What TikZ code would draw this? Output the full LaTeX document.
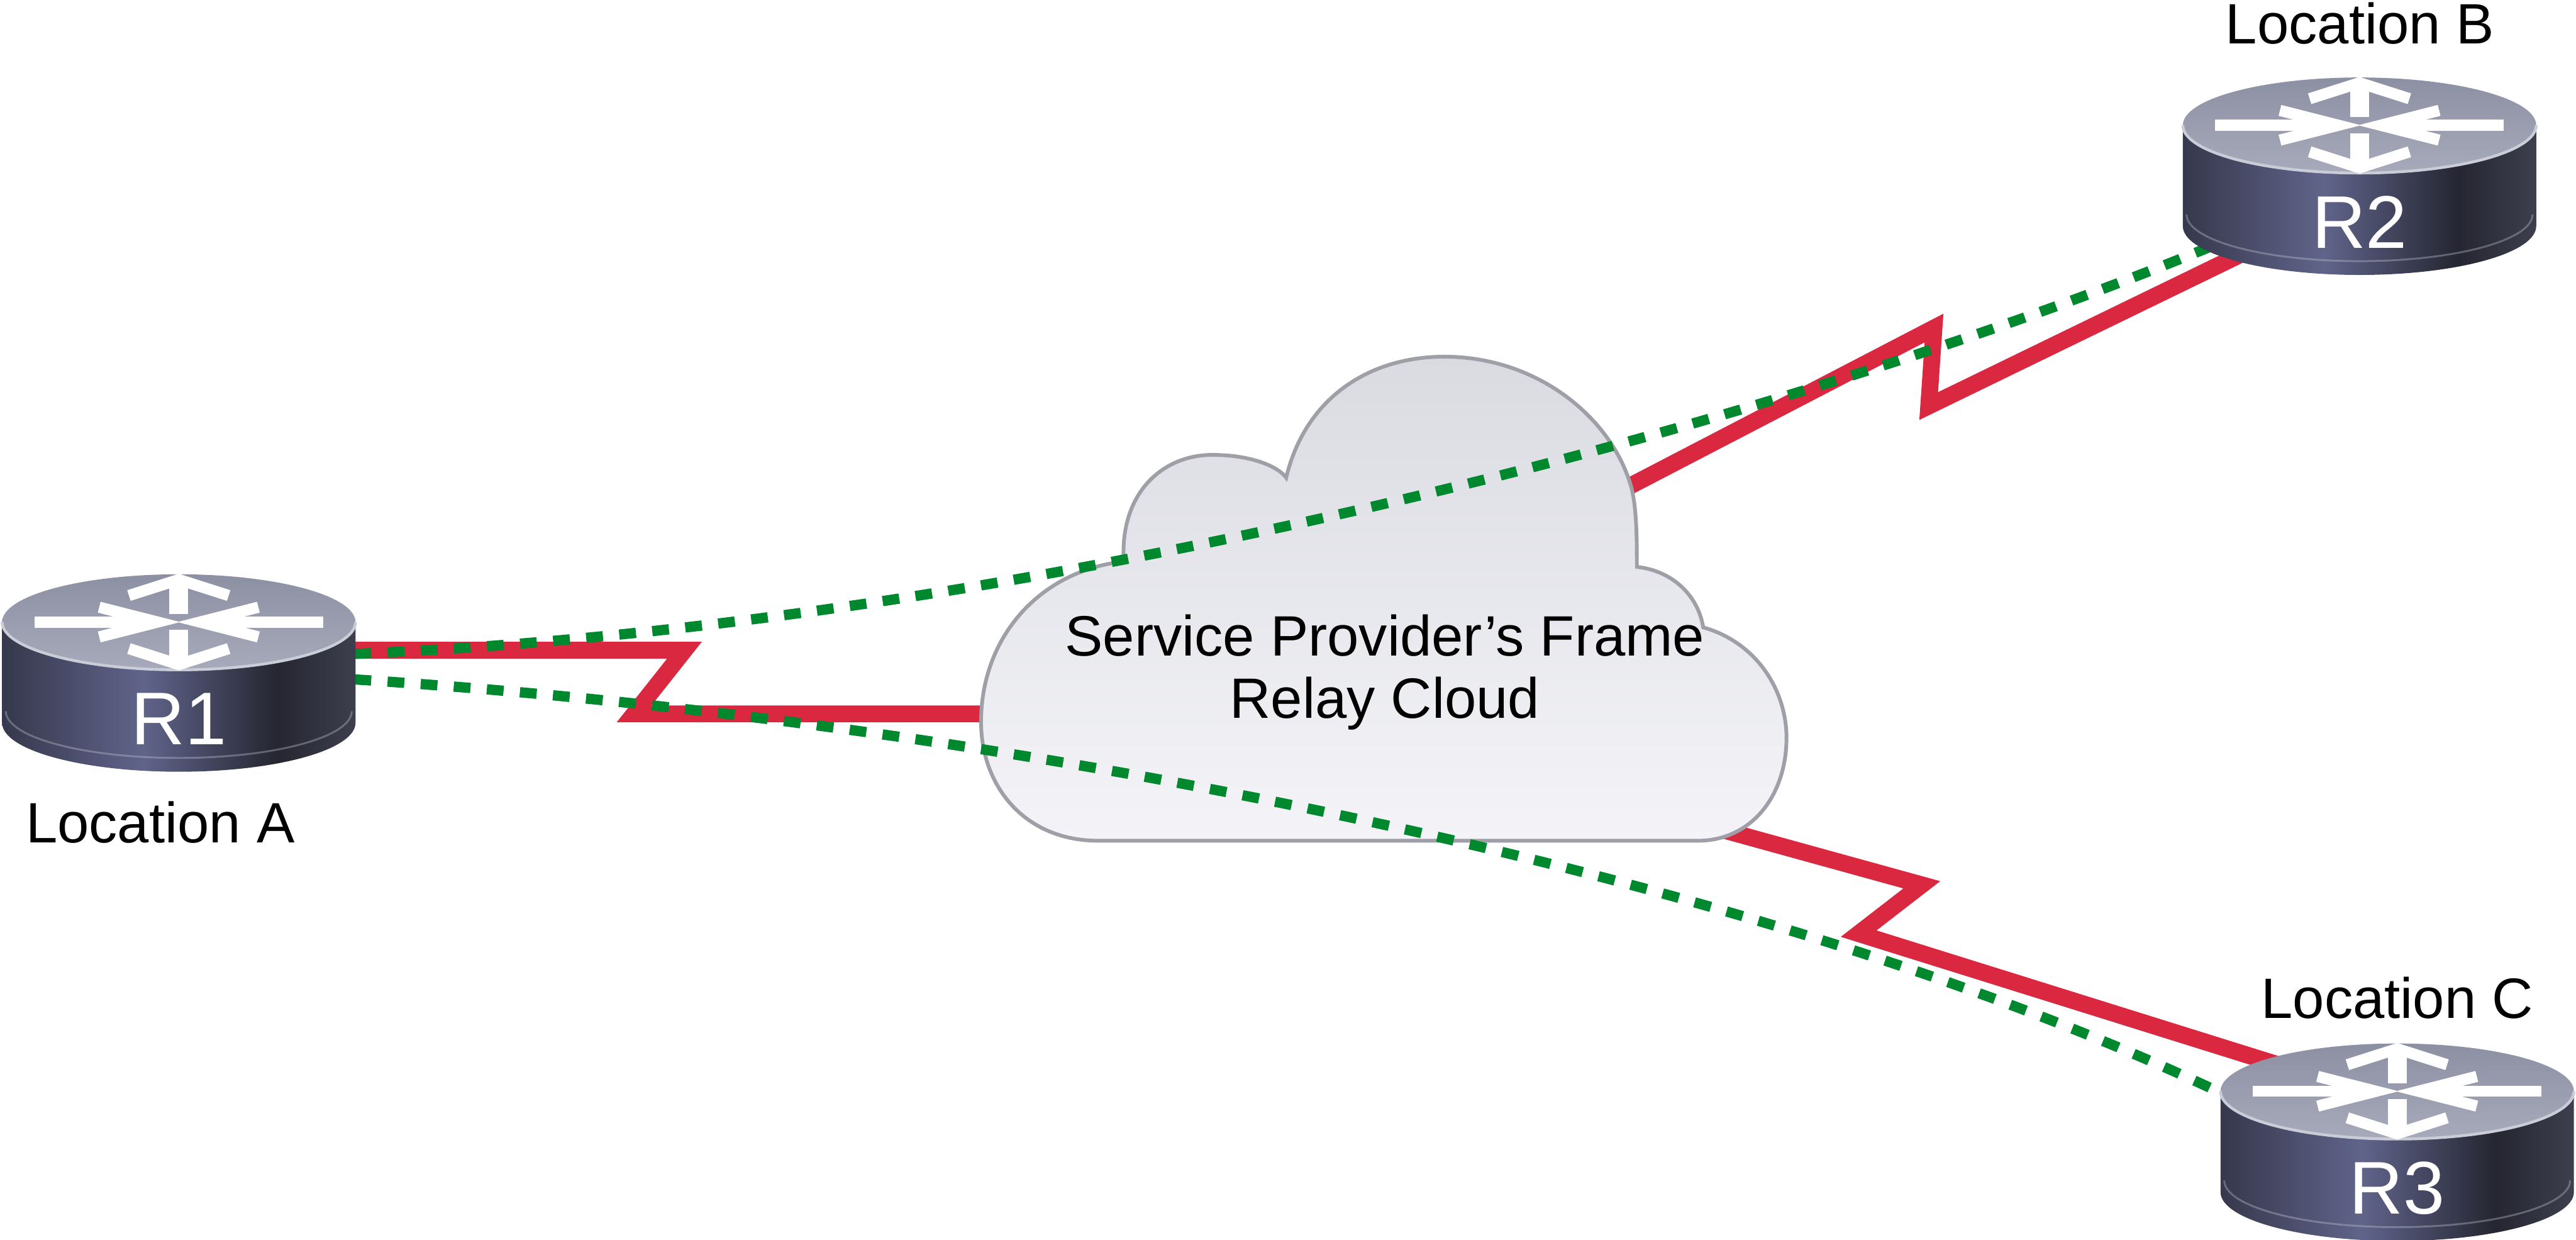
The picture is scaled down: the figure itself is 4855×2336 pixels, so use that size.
\documentclass[tikz,border=0pt]{standalone}
\usepackage{fontspec}
\setmainfont{Liberation Sans}
\usetikzlibrary{calc}
\definecolor{linkred}{RGB}{218,40,64}
\definecolor{pvcgreen}{RGB}{0,136,46}
\definecolor{rtop}{RGB}{140,144,163}
\definecolor{rtopfront}{RGB}{166,170,186}
\definecolor{rrim}{RGB}{202,205,216}
\definecolor{rb0}{RGB}{54,56,76}
\definecolor{rb1}{RGB}{96,100,138}
\definecolor{rb2}{RGB}{37,38,49}
\definecolor{rb3}{RGB}{62,63,78}
\definecolor{cloudtop}{RGB}{218,219,225}
\definecolor{cloudbot}{RGB}{244,244,248}
\definecolor{cloudline}{RGB}{158,159,167}
\pgfdeclarehorizontalshading{routerbody}{100bp}{color(0bp)=(rb0); color(25bp)=(rb0); color(45bp)=(rb1); color(64bp)=(rb2); color(75bp)=(rb3); color(100bp)=(rb3)}
\pgfdeclarelayer{edgelayer}
\pgfdeclarelayer{nodelayer}
\pgfsetlayers{edgelayer,nodelayer,main}

\tikzset{
  serial/.style={draw=linkred,line width=9pt,line join=miter},
  pvc/.style={draw=pvcgreen,line width=5.5pt,dash pattern=on 9pt off 8.8pt},
  site/.style={anchor=base,font=\fontsize{30.5}{36}\selectfont},
  rname/.style={text=white,font=\fontsize{40}{44}\selectfont},
  cloudtext/.style={align=center,font=\fontsize{30.5}{33.3}\selectfont},
  pics/router/.style={code={
    \shade[shading=routerbody] (-333,0) -- (-333,190) arc[start angle=180,end angle=0,x radius=333,y radius=92] -- (333,0) -- cycle;
    \draw[rrim,opacity=.35,line width=1pt] (-326,168) arc[start angle=180,end angle=0,x radius=326,y radius=88];
    \shade[top color=rtop,bottom color=rtopfront] (0,0) ellipse[x radius=333,y radius=90];
    \draw[rrim,line width=1.5pt] (-333,0) arc[start angle=180,end angle=0,x radius=333,y radius=90];
    \draw[white,line width=6pt] (-272,0) -- (-50,0) (272,0) -- (50,0);
    \draw[white,line width=6pt,line join=miter] (-150,-28) -- (-40,0) -- (-150,28) (150,-28) -- (40,0) -- (150,28);
    \draw[white,line width=10pt] (0,-15) -- (0,-72) (0,15) -- (0,72);
    \draw[white,line width=6pt,line join=miter] (-94,-50) -- (0,-80) -- (94,-50) (-94,50) -- (0,80) -- (94,50);
    \node[rname] (#1) at (0,183) {#1};
  }}
}

\begin{document}
\begin{tikzpicture}[x=0.1mm,y=-0.1mm]
\useasboundingbox (0,0) rectangle (4855,2336);

\pic at (337,1172) {router=R1};
\pic at (4447,236) {router=R2};
\pic at (4518,2056) {router=R3};

\node[site] (locA) at (302,1588) {Location A};
\node[site] (locB) at (4448,82) {Location B};
\node[site] (locC) at (4518,1918) {Location C};

\begin{pgfonlayer}{nodelayer}
\shade[top color=cloudtop,bottom color=cloudbot,draw=cloudline,line width=2pt]
  (2070,1584) .. controls (1930,1584) and (1849,1480) .. (1849,1360)
  .. controls (1849,1200) and (1960,1075) .. (2118,1058)
  .. controls (2110,930) and (2190,857) .. (2285,857)
  .. controls (2360,857) and (2410,880) .. (2424,900)
  .. controls (2460,750) and (2580,672) .. (2722,672)
  .. controls (2900,672) and (3040,790) .. (3075,920)
  .. controls (3085,960) and (3085,1020) .. (3085,1068)
  .. controls (3150,1075) and (3200,1120) .. (3210,1182)
  .. controls (3310,1210) and (3367,1300) .. (3367,1390)
  .. controls (3367,1500) and (3300,1584) .. (3200,1584) -- cycle;
\node[cloudtext] (cloud) at (2610,1267) {Service Provider’s Frame\\Relay Cloud};
\end{pgfonlayer}

\coordinate (r1a) at (1290,1225);
\coordinate (r1b) at (1195,1345);
\coordinate (clB) at (2900,1005);
\coordinate (r2a) at (3645,618);
\coordinate (r2b) at (3635,765);
\coordinate (r2c) at (4300,442);
\coordinate (clC) at (3100,1523);
\coordinate (r3a) at (3622,1667);
\coordinate (r3b) at (3503,1759);
\coordinate (r3c) at (4380,2033);

\begin{pgfonlayer}{edgelayer}
\draw[serial] (R1 |- r1a) -- (r1a) -- (r1b) -- (cloud |- r1b);
\draw[serial] (clB) -- (r2a) -- (r2b) -- (r2c);
\draw[serial] (clC) -- (r3a) -- (r3b) -- (r3c);
\end{pgfonlayer}

\coordinate (a1) at (668,1232);
\coordinate (a2) at (668,1280);
\coordinate (b1) at (4168,464);
\coordinate (c1) at (4190,2061);

\begin{pgfonlayer}{nodelayer}
\draw[pvc] (a1) .. controls (1900,1180) and (3300,820) .. (b1);
\draw[pvc] (a2) .. controls (1900,1360) and (3300,1640) .. (c1);
\end{pgfonlayer}
\end{tikzpicture}
\end{document}
